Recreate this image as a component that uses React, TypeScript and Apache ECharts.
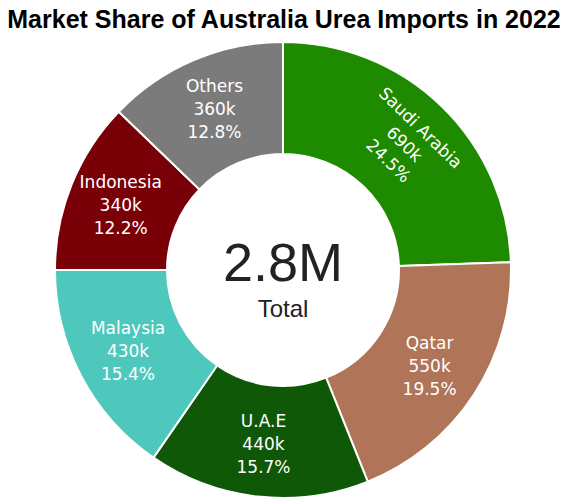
import React, { useEffect, useRef } from "react";
import * as echarts from "echarts";

const categories = ["Saudi Arabia", "Qatar", "U.A.E", "Malaysia", "Indonesia", "Others"];
const values = [688, 548, 441, 433, 343, 360]; // thousand tonnes
const colors = ["#1e8a00", "#b07458", "#0f5807", "#4ec8bd", "#7a0008", "#7b7b7b"];
const titleText = "Market Share of Australia Urea Imports in 2022";
const totalLabel = "2.8M";
const totalCaption = "Total";

export default function App() {
  const ref = useRef<HTMLDivElement>(null);
  useEffect(() => {
    document.body.style.margin = "0";
    const chart = echarts.init(ref.current!, null, { renderer: "svg" });
    const sum = values.reduce((a, b) => a + b, 0);
    const data = categories.map((name, i) => ({
      name,
      value: values[i],
      itemStyle: { color: colors[i] },
      label: i === 0 ? { rotate: "tangential" } : {},
    }));
    chart.setOption({
      animation: false,
      title: {
        text: titleText,
        left: "center",
        top: 1,
        textStyle: { fontFamily: "Liberation Sans, Arial", fontWeight: "bold", fontSize: 25, color: "#000" },
      },
      graphic: [
        {
          type: "text",
          x: 283,
          y: 262,
          style: {
            text: totalLabel,
            fontFamily: "Liberation Sans, Arial",
            fontSize: 54,
            fill: "#222",
            textAlign: "center",
            textVerticalAlign: "middle",
          },
        },
        {
          type: "text",
          x: 283,
          y: 308,
          style: {
            text: totalCaption,
            fontFamily: "Liberation Sans, Arial",
            fontSize: 24,
            fill: "#222",
            textAlign: "center",
            textVerticalAlign: "middle",
          },
        },
      ],
      series: [
        {
          type: "pie",
          center: [283, 270],
          radius: [116, 228],
          startAngle: 90,
          clockwise: true,
          data,
          itemStyle: { borderColor: "#fff", borderWidth: 2 },
          label: {
            show: true,
            position: "inside",
            color: "#fff",
            fontFamily: "DejaVu Sans, Verdana",
            fontSize: 17,
            lineHeight: 23,
            formatter: (p: any) =>
              `${p.name}\n${Math.round(p.value / 10) * 10}k\n${((p.value / sum) * 100).toFixed(1)}%`,
          },
          emphasis: { disabled: true },
        },
      ],
    });
    return () => chart.dispose();
  }, []);
  return <div ref={ref} style={{ width: 568, height: 504 }} />;
}
